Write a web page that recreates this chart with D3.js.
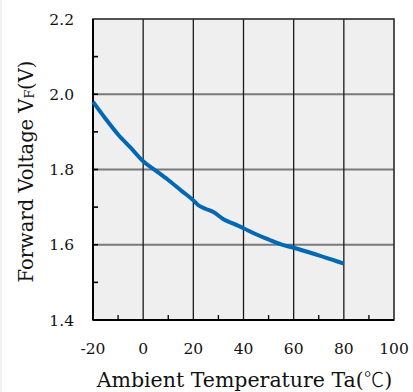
<!DOCTYPE html>
<html>
<head>
<meta charset="utf-8">
<script src="https://cdn.jsdelivr.net/npm/d3@7/dist/d3.min.js"></script>
<style>
  html, body { margin: 0; padding: 0; background: #fff; }
  svg { display: block; }
  text { font-family: "DejaVu Serif", "Liberation Serif", serif; fill: #111; }
</style>
</head>
<body>
<script>
// Forward voltage vs. ambient temperature
const temperature = [-20, -15, -10, -5, 0, 5, 10, 15, 20, 22, 25, 28, 32, 36, 40, 45, 50, 55, 60, 65, 70, 75, 80];
const forwardVoltage = [1.980, 1.935, 1.893, 1.858, 1.822, 1.797, 1.772, 1.745, 1.718, 1.705, 1.695, 1.687, 1.668, 1.656, 1.644, 1.628, 1.614, 1.601, 1.592, 1.582, 1.572, 1.561, 1.550];

const xTicks = [-20, 0, 20, 40, 60, 80, 100];
const xMinorTicks = [-10, 10, 30, 50, 70, 90];
const yTicks = [1.4, 1.6, 1.8, 2.0, 2.2];
const yMinorTicks = [1.5, 1.7, 1.9, 2.1];

const W = 413, H = 392;
const margin = { left: 93, right: 19, top: 19, bottom: 72 };

const svg = d3.select("body").append("svg").attr("width", W).attr("height", H);

// faint frame line along the left edge
svg.append("line").attr("x1", 1).attr("x2", 1).attr("y1", 0).attr("y2", H)
  .attr("stroke", "#e4e4e4").attr("stroke-width", 1);

const x = d3.scaleLinear().domain([-20, 100]).range([margin.left, W - margin.right]);
const y = d3.scaleLinear().domain([1.4, 2.2]).range([H - margin.bottom, margin.top]);

const [x0, x1] = x.range();
const [y0, y1] = y.range();

// plot background
svg.append("rect").attr("x", x0).attr("y", y1).attr("width", x1 - x0).attr("height", y0 - y1)
  .attr("fill", "#efefef");

// horizontal grid (grey)
svg.append("g").selectAll("line").data(yTicks.slice(1, -1)).join("line")
  .attr("x1", x0).attr("x2", x1).attr("y1", d => y(d)).attr("y2", d => y(d))
  .attr("stroke", "#7a7a7a").attr("stroke-width", 1.8);

// vertical grid (dark)
svg.append("g").selectAll("line").data(xTicks.slice(1, -1)).join("line")
  .attr("x1", d => x(d)).attr("x2", d => x(d)).attr("y1", y1).attr("y2", y0)
  .attr("stroke", "#1a1a1a").attr("stroke-width", 1.3);

// frame
svg.append("rect").attr("x", x0).attr("y", y1).attr("width", x1 - x0).attr("height", y0 - y1)
  .attr("fill", "none").attr("stroke", "#2a2a2a").attr("stroke-width", 1.6);

// inward ticks
const tickLen = 5;
svg.append("g").selectAll("line").data(yMinorTicks.concat(yTicks.slice(1, -1))).join("line")
  .attr("x1", x0).attr("x2", x0 + tickLen).attr("y1", d => y(d)).attr("y2", d => y(d))
  .attr("stroke", "#000").attr("stroke-width", 1.6);
svg.append("g").selectAll("line").data(xMinorTicks).join("line")
  .attr("x1", d => x(d)).attr("x2", d => x(d)).attr("y1", y0).attr("y2", y0 - tickLen)
  .attr("stroke", "#000").attr("stroke-width", 1.3);

// left and bottom axis lines
svg.append("line").attr("x1", x0).attr("x2", x0).attr("y1", y1).attr("y2", y0)
  .attr("stroke", "#000").attr("stroke-width", 2);
svg.append("line").attr("x1", x0).attr("x2", x1).attr("y1", y0).attr("y2", y0)
  .attr("stroke", "#000").attr("stroke-width", 2);

// tick labels
svg.append("g").selectAll("text").data(yTicks).join("text")
  .attr("x", 74).attr("y", d => y(d)).attr("dy", "0.36em")
  .attr("text-anchor", "end").attr("font-size", 15.5)
  .text(d => d.toFixed(1));

svg.append("g").selectAll("text").data(xTicks).join("text")
  .attr("x", d => x(d)).attr("y", 354)
  .attr("text-anchor", "middle").attr("font-size", 15.5)
  .text(d => d < 0 ? "-" + Math.abs(d) : d);

// axis titles
const xt = svg.append("text").attr("x", x((x.domain()[0] + x.domain()[1]) / 2) + 1).attr("y", 386.5)
  .attr("text-anchor", "middle").attr("font-size", 20.5);
xt.append("tspan").text("Ambient Temperature Ta(");
xt.append("tspan").style("font-family", "'Noto Sans CJK JP', 'Noto Sans CJK SC', sans-serif")
  .attr("font-weight", 300).text("℃");
xt.append("tspan").text(")");

const yt = svg.append("text")
  .attr("transform", `translate(33,${(y0 + y1) / 2 + 2}) rotate(-90)`)
  .attr("text-anchor", "middle").attr("font-size", 19.5);
yt.append("tspan").text("Forward Voltage V");
yt.append("tspan").attr("font-size", 12.5).attr("dy", 1).text("F");
yt.append("tspan").attr("dy", -1).text("(V)");

// characteristic curve
const line = d3.line().x((d, i) => x(temperature[i])).y(d => y(d)).curve(d3.curveMonotoneX);
svg.append("path").datum(forwardVoltage).attr("d", line)
  .attr("fill", "none").attr("stroke", "#0068b5").attr("stroke-width", 4)
  .attr("stroke-linejoin", "round");
</script>
</body>
</html>
